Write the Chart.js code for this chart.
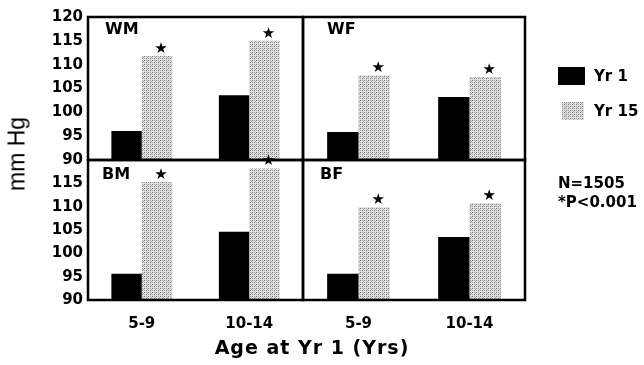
<!DOCTYPE html>
<html><head><meta charset="utf-8">
<script src="https://cdn.jsdelivr.net/npm/chart.js@4/dist/chart.umd.min.js"></script>
<style>
html,body{margin:0;padding:0;background:#fff;}
#wrap{position:relative;width:644px;height:365px;overflow:hidden;font-family:"DejaVu Sans",sans-serif;color:#000;}
canvas{position:absolute;}
.t{position:absolute;white-space:nowrap;font-weight:bold;line-height:1;}
#ylab{position:absolute;left:17px;top:154px;transform:translate(-50%,-50%) rotate(-90deg);font-family:"Liberation Sans",Arial,sans-serif;font-size:23px;white-space:nowrap;line-height:1;}
.sw{position:absolute;}
</style></head><body>
<div id="wrap">
  <canvas id="c0" width="306" height="180" style="left:0;top:0"></canvas>
  <canvas id="c1" width="228" height="180" style="left:300px;top:0"></canvas>
  <canvas id="c2" width="306" height="200" style="left:0;top:140px"></canvas>
  <canvas id="c3" width="228" height="200" style="left:300px;top:140px"></canvas>
  <div id="ylab">mm Hg</div>
  <div class="t" id="xtitle" style="left:312px;top:347px;transform:translate(-50%,-50%);font-size:19px;letter-spacing:1px;">Age at Yr 1 (Yrs)</div>
  <div class="sw" id="sw1" style="left:558px;top:67px;width:27px;height:18px;background:#000;"></div>
  <div class="sw" id="sw2" style="left:562px;top:102px;width:22px;height:18px;"></div>
  <div class="t" id="lg1" style="left:594px;top:76px;transform:translateY(-50%);font-size:15px;"></div>
  <div class="t" id="lg2" style="left:594px;top:111px;transform:translateY(-50%);font-size:15px;"></div>
  <div class="t" id="n1" style="left:558px;top:183px;transform:translateY(-50%);font-size:15px;"></div>
  <div class="t" id="n2" style="left:558px;top:202px;transform:translateY(-50%);font-size:15px;"></div>
</div>
<script>
// ---- data ----
const categories = ['5-9', '10-14'];
const seriesNames = ['Yr 1', 'Yr 15'];
const panelNames = ['WM', 'WF', 'BM', 'BF'];
const wmYr1  = [96.1, 103.6];
const wmYr15 = [111.8, 115.0];
const wfYr1  = [95.9, 103.2];
const wfYr15 = [107.8, 107.4];
const bmYr1  = [95.6, 104.6];
const bmYr15 = [115.3, 118.2];
const bfYr1  = [95.6, 103.5];
const bfYr15 = [109.9, 110.8];
const topTicks = [90, 95, 100, 105, 110, 115, 120];
const bottomTicks = [90, 95, 100, 105, 110, 115];
const notes = ['N=1505', '*P<0.001'];
const sigMark = '\u2605';

// ---- pattern for Yr 15 ----
function makePatternCanvas(){
  const c = document.createElement('canvas'); c.width = 4; c.height = 4;
  const x = c.getContext('2d');
  x.fillStyle = '#dedede'; x.fillRect(0,0,4,4);
  x.fillStyle = '#7e7e7e'; x.fillRect(0,0,1,1); x.fillRect(2,2,1,1);
  x.fillStyle = '#a8a8a8'; x.fillRect(2,0,1,1); x.fillRect(0,2,1,1); x.fillRect(3,1,1,1);
  return c;
}
const patCanvas = makePatternCanvas();
const pattern = document.createElement('canvas').getContext('2d').createPattern(patCanvas, 'repeat');
document.getElementById('sw2').style.background = 'url(' + patCanvas.toDataURL() + ')';
document.getElementById('lg1').textContent = seriesNames[0];
document.getElementById('lg2').textContent = seriesNames[1];
document.getElementById('n1').textContent = notes[0];
document.getElementById('n2').textContent = notes[1];

const BOLD = {family: '"DejaVu Sans", sans-serif', size: 15, weight: 'bold'};

const framePlugin = {
  id: 'frame',
  afterDatasetsDraw(chart) {
    const a = chart.chartArea, ctx = chart.ctx, o = chart.options.plugins.frame;
    ctx.save();
    ctx.fillStyle = '#000';
    ctx.font = '15px "DejaVu Sans"';
    ctx.textAlign = 'center'; ctx.textBaseline = 'middle';
    chart.getDatasetMeta(1).data.forEach(b => ctx.fillText(sigMark, b.x + 4, b.y - 7));
    ctx.font = 'bold 16px "DejaVu Sans"';
    ctx.textAlign = 'left';
    ctx.fillText(o.label, a.left + o.lx, a.top + o.ly);
    ctx.strokeStyle = '#000'; ctx.lineWidth = 2.5;
    ctx.strokeRect(a.left, a.top, a.right - a.left, a.bottom - a.top);
    ctx.restore();
  }
};

function makeChart(id, yr1, yr15, opts) {
  const yTicks = opts.bottom ? bottomTicks : topTicks;
  new Chart(document.getElementById(id), {
    type: 'bar',
    data: {
      labels: categories,
      datasets: [
        {label: seriesNames[0], data: yr1, backgroundColor: '#000', borderWidth: 0},
        {label: seriesNames[1], data: yr15, backgroundColor: pattern, borderWidth: 0}
      ]
    },
    options: {
      responsive: false, animation: false,
      datasets: {bar: {categoryPercentage: 0.565, barPercentage: 1.0}},
      layout: {padding: opts.padding},
      plugins: {legend: {display: false}, tooltip: {enabled: false},
        frame: {label: opts.label, lx: opts.lx, ly: opts.ly}},
      scales: {
        x: {
          display: !!opts.bottom,
          grid: {display: false, drawTicks: false},
          border: {display: false},
          ticks: {color: '#000', font: BOLD, padding: 15, maxRotation: 0, autoSkip: false},
          afterFit(s) { if (opts.bottom) s.height = 40; }
        },
        y: {
          display: !!opts.left,
          min: 90, max: 120,
          grid: {display: false, drawTicks: false},
          border: {display: false},
          ticks: {color: '#000', font: BOLD, padding: 5, autoSkip: false},
          afterBuildTicks(s) { s.ticks = yTicks.map(v => ({value: v})); },
          afterFit(s) { if (opts.left) s.width = 88; }
        }
      }
    },
    plugins: [framePlugin]
  });
}

makeChart('c0', wmYr1, wmYr15, {left: true, bottom: false, label: panelNames[0], lx: 17, ly: 13,
  padding: {top: 17, right: 3, bottom: 20, left: 0}});
makeChart('c1', wfYr1, wfYr15, {left: false, bottom: false, label: panelNames[1], lx: 24, ly: 13,
  padding: {top: 17, right: 3, bottom: 20, left: 3}});
makeChart('c2', bmYr1, bmYr15, {left: true, bottom: true, label: panelNames[2], lx: 14, ly: 15,
  padding: {top: 20, right: 3, bottom: 0, left: 0}});
makeChart('c3', bfYr1, bfYr15, {left: false, bottom: true, label: panelNames[3], lx: 17, ly: 15,
  padding: {top: 20, right: 3, bottom: 0, left: 3}});
</script>
</body></html>
